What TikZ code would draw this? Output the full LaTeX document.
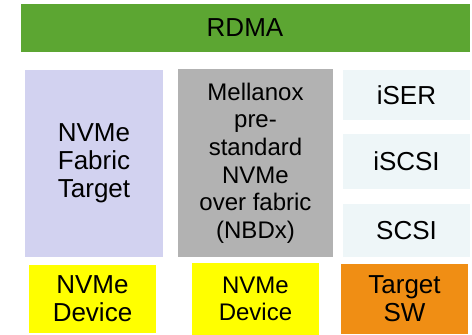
\documentclass[tikz,border=0pt]{standalone}
\usepackage{fontspec}
\setmainfont{Liberation Sans}
\definecolor{rdmagreen}{HTML}{5CA632}
\definecolor{lavender}{HTML}{D2D2F0}
\definecolor{midgray}{HTML}{B2B2B2}
\definecolor{paleblue}{HTML}{EEF6F8}
\definecolor{devyellow}{HTML}{FFFF00}
\definecolor{swor}{HTML}{F08E14}
\tikzset{
  block/.style={rectangle, inner sep=0pt, align=center, text=black},
  bigtxt/.style={font=\fontsize{26}{28}\selectfont},
  midtxt/.style={font=\fontsize{24}{27.6}\selectfont},
}
\begin{document}
\begin{tikzpicture}[x=1pt,y=-1pt]
\useasboundingbox (0,0) rectangle (472,335);
% top transport layer
\node[block,bigtxt,fill=rdmagreen,minimum width=449pt,minimum height=48pt] (rdma) at (245,28) {RDMA};
% protocol stacks
\node[block,bigtxt,fill=lavender,minimum width=138pt,minimum height=187pt] (fab) at (94,163.5) {NVMe\\Fabric\\Target};
\node[block,midtxt,fill=midgray,minimum width=155pt,minimum height=188pt] (nbdx) at (255.5,163) {Mellanox\\pre-\\standard\\NVMe\\over fabric\\(NBDx)};
\node[block,bigtxt,fill=paleblue,minimum width=127pt,minimum height=50pt] (iser) at (406.5,95) {iSER};
\node[block,bigtxt,fill=paleblue,minimum width=127pt,minimum height=55pt] (iscsi) at (406.5,161.5) {iSCSI};
\node[block,bigtxt,fill=paleblue,minimum width=127pt,minimum height=53pt] (scsi) at (406.5,230.5) {SCSI};
% back-end devices
\node[block,bigtxt,fill=devyellow,minimum width=127pt,minimum height=68pt] (dev1) at (92.5,299) {NVMe\\Device};
\node[block,midtxt,fill=devyellow,minimum width=127pt,minimum height=72pt] (dev2) at (255.5,299) {NVMe\\Device};
\node[block,bigtxt,fill=swor,minimum width=127pt,minimum height=70pt] (tsw) at (404.5,299) {Target\\SW};
\end{tikzpicture}
\end{document}
